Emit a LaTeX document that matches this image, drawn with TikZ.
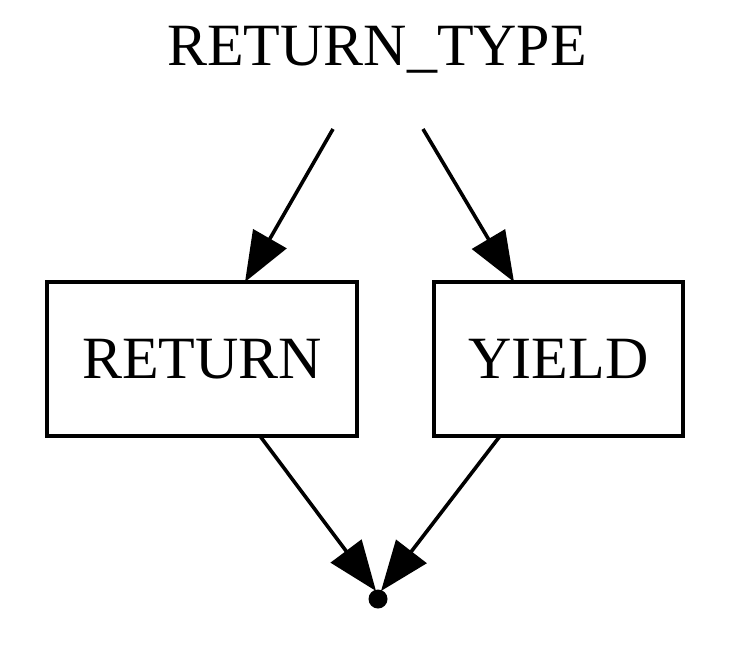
\documentclass[tikz,border=0pt]{standalone}
\usepackage{fontspec}
\setmainfont{Liberation Serif}
\usetikzlibrary{arrows.meta}
\begin{document}
\begin{tikzpicture}[x=1pt,y=-1pt,
  box/.style={draw, line width=3.6pt, inner sep=0pt, font=\fontsize{60}{60}\selectfont},
  edge/.style={line width=3.6pt, -{Triangle[length=50pt,width=38pt]}},
  lbl/.style={inner sep=0pt, font=\fontsize{60}{60}\selectfont}]
\useasboundingbox (0,0) rectangle (738,646);
\node[lbl] (rt) at (377,50) {RETURN\_TYPE};
\node[box, minimum width=310pt, minimum height=154pt] (ret) at (202,359) {RETURN};
\node[box, minimum width=249pt, minimum height=154pt] (yld) at (558.5,359) {YIELD};
\node[circle, fill, inner sep=0pt, minimum size=19pt] (dot) at (378,599) {};
\coordinate (s1) at (333,129);
\coordinate (s2) at (423,129);
\coordinate (t1) at (245,282);
\coordinate (t2) at (514,282);
\coordinate (b1) at (260,436);
\coordinate (b2) at (500,436);
\coordinate (d1) at (376,591);
\coordinate (d2) at (381,591);
\draw[edge] (s1) -- (t1);
\draw[edge] (s2) -- (t2);
\draw[edge] (b1) -- (d1);
\draw[edge] (b2) -- (d2);
\end{tikzpicture}
\end{document}
